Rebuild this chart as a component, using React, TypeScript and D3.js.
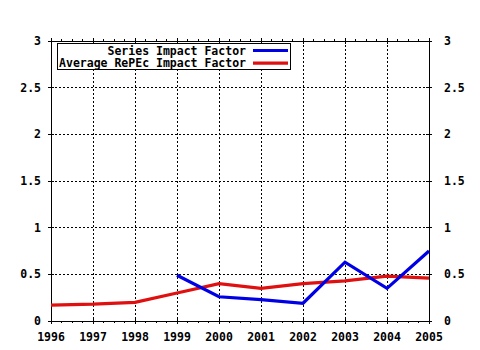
import React from "react";
import * as d3 from "d3";

// values
const years = [1996, 1997, 1998, 1999, 2000, 2001, 2002, 2003, 2004, 2005];
const seriesYears = [1999, 2000, 2001, 2002, 2003, 2004, 2005];
const seriesImpact = [0.49, 0.26, 0.23, 0.19, 0.63, 0.35, 0.75];
const averageImpact = [0.17, 0.18, 0.2, 0.3, 0.4, 0.35, 0.4, 0.43, 0.48, 0.46];
const yTicks = [0, 0.5, 1, 1.5, 2, 2.5, 3];
const yTickLabels = ["0", "0.5", "1", "1.5", "2", "2.5", "3"];
const legendLabels = ["Series Impact Factor", "Average RePEc Impact Factor"];

const BLUE = "#0000e6";
const RED = "#e01010";
const FONT = "'DejaVu Sans Mono', monospace";

const App = () => {
  const w = 480;
  const h = 350;
  const left = 51;
  const right = 429;
  const top = 41;
  const bottom = 321;

  const x = d3.scaleLinear().domain([1996, 2005]).range([left, right]);
  const y = d3.scaleLinear().domain([0, 3]).range([bottom, top]);

  const line = d3
    .line<[number, number]>()
    .x((d) => x(d[0]))
    .y((d) => y(d[1]));

  const seriesPath = line(seriesYears.map((yr, i) => [yr, seriesImpact[i]]));
  const averagePath = line(years.map((yr, i) => [yr, averageImpact[i]]));

  // minor ticks at quarter years
  const minor: number[] = [];
  for (let i = 0; i < years.length - 1; i++) {
    for (let k = 1; k < 4; k++) minor.push(years[i] + k / 4);
  }

  return (
    <svg
      width={w}
      height={h}
      style={{ position: "absolute", left: 0, top: 0, background: "#fff" }}
      fontFamily={FONT}
      fontWeight="bold"
      fontSize={11.5}
    >
      <rect x={0} y={0} width={w} height={h} fill="#fff" />
      {/* grid */}
      <g stroke="#000" strokeWidth={1} strokeDasharray="2,2" shapeRendering="crispEdges">
        {years.slice(1, -1).map((yr) => (
          <line key={"gx" + yr} x1={x(yr)} x2={x(yr)} y1={top} y2={bottom} />
        ))}
        {yTicks.slice(1, -1).map((v) => (
          <line key={"gy" + v} x1={left} x2={right} y1={y(v)} y2={y(v)} />
        ))}
      </g>
      {/* frame */}
      <g stroke="#000" strokeWidth={1} shapeRendering="crispEdges" fill="none">
        <rect x={left} y={top} width={right - left} height={bottom - top} />
        {years.map((yr) => (
          <g key={"tx" + yr}>
            <line x1={x(yr)} x2={x(yr)} y1={bottom - 3} y2={bottom + 3} />
            <line x1={x(yr)} x2={x(yr)} y1={top - 3} y2={top + 3} />
          </g>
        ))}
        {minor.map((v) => (
          <g key={"mx" + v}>
            <line x1={x(v)} x2={x(v)} y1={bottom} y2={bottom + 2} />
            <line x1={x(v)} x2={x(v)} y1={top - 2} y2={top} />
          </g>
        ))}
        {yTicks.map((v) => (
          <g key={"ty" + v}>
            <line x1={left - 3} x2={left + 3} y1={y(v)} y2={y(v)} />
            <line x1={right - 3} x2={right + 3} y1={y(v)} y2={y(v)} />
          </g>
        ))}
      </g>
      {/* tick labels */}
      {yTicks.map((v, i) => (
        <g key={"ly" + v}>
          <text x={41} y={y(v)} dy="0.35em" textAnchor="end">
            {yTickLabels[i]}
          </text>
          <text x={444} y={y(v)} dy="0.35em" textAnchor="start">
            {yTickLabels[i]}
          </text>
        </g>
      ))}
      {years.map((yr) => (
        <text key={"lx" + yr} x={x(yr)} y={337} dy="0.35em" textAnchor="middle">
          {yr}
        </text>
      ))}
      {/* data lines */}
      <path d={averagePath ?? ""} fill="none" stroke={RED} strokeWidth={3.2} />
      <path d={seriesPath ?? ""} fill="none" stroke={BLUE} strokeWidth={3.2} />
      {/* legend */}
      <rect x={57.5} y={43.5} width={233} height={26} fill="#fff" stroke="#000" shapeRendering="crispEdges" />
      {legendLabels.map((label, i) => (
        <g key={label}>
          <text x={246} y={50.5 + i * 12.7} dy="0.35em" textAnchor="end">
            {label}
          </text>
          <line
            x1={253}
            x2={288}
            y1={50.5 + i * 12.7}
            y2={50.5 + i * 12.7}
            stroke={i === 0 ? BLUE : RED}
            strokeWidth={3.2}
          />
        </g>
      ))}
    </svg>
  );
};

export default App;
